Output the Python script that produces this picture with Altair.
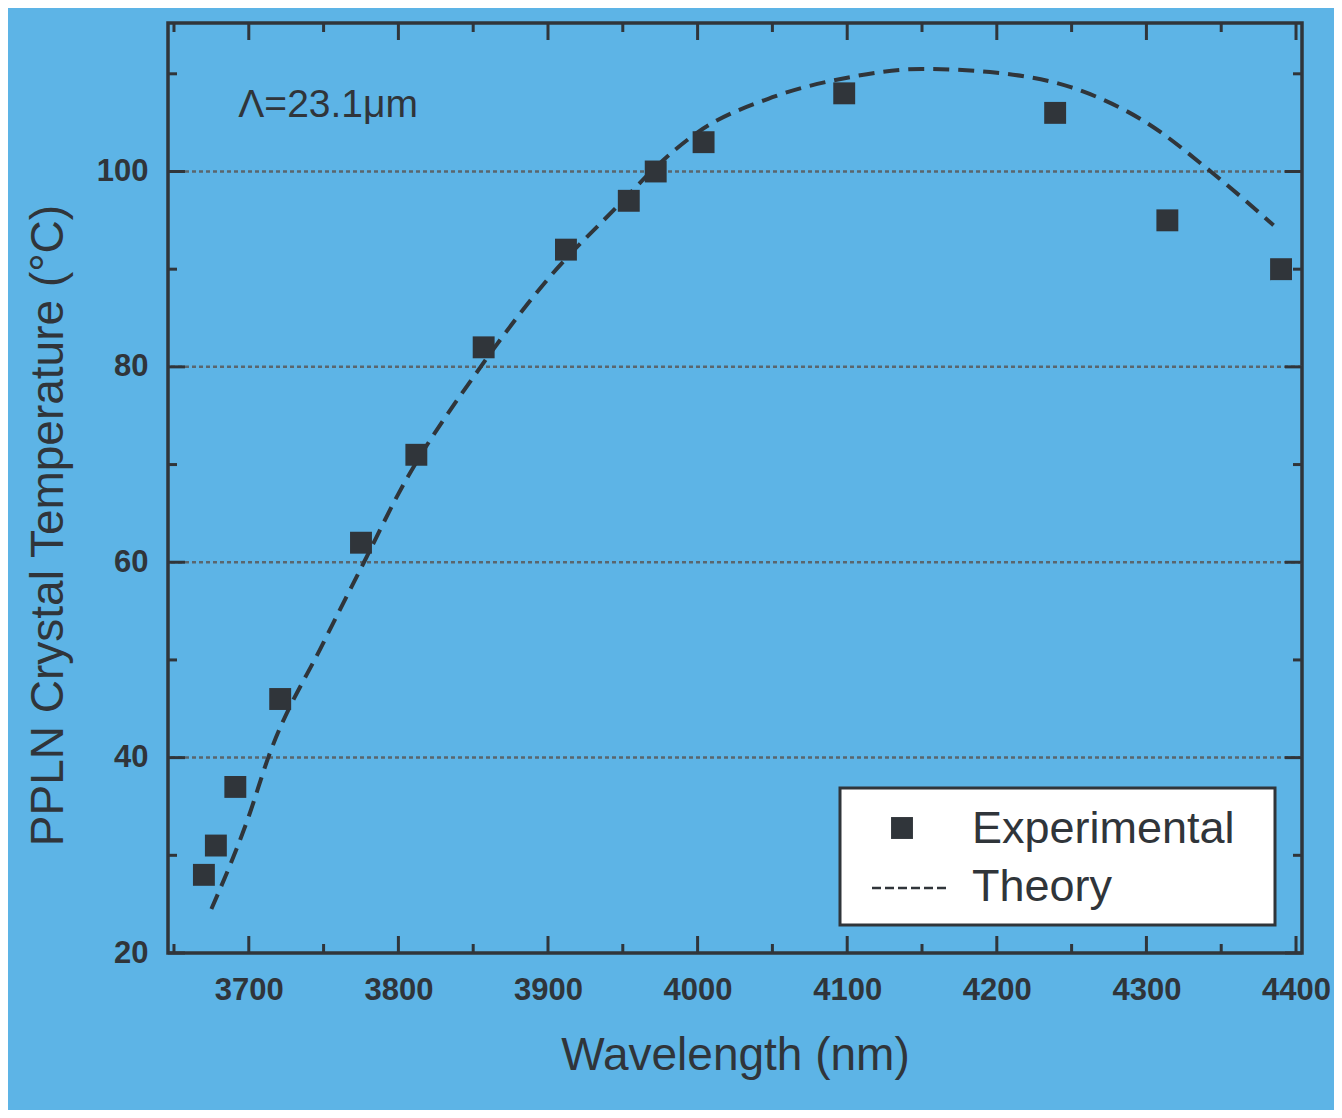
import altair as alt
import pandas as pd

# ---- data ----
exp_wavelength = [3670, 3678, 3691, 3721, 3775, 3812, 3857, 3912, 3954, 3972, 4004, 4098, 4239, 4314, 4390]
exp_temperature = [28, 31, 37, 46, 62, 71, 82, 92, 97, 100, 103, 108, 106, 95, 90]

theory_wavelength = [3675, 3700, 3713, 3750, 3777, 3800, 3855, 3900, 3950, 3969, 4000, 4050, 4100, 4150, 4200, 4250, 4300, 4343, 4385]
theory_temperature = [24.5, 34, 40, 51.8, 60, 67, 80, 89, 97, 100, 104, 107.6, 109.6, 110.5, 110.1, 108.6, 105, 100, 94.5]

x_major_ticks = [3700, 3800, 3900, 4000, 4100, 4200, 4300, 4400]
x_minor_ticks = [3650, 3750, 3850, 3950, 4050, 4150, 4250, 4350]
y_major_ticks = [20, 40, 60, 80, 100]
y_minor_ticks = [30, 50, 70, 90, 110]
grid_values = [40, 60, 80, 100]

annotation_text = ["Λ=23.1μm"]
annotation_x = [3693]
annotation_y = [106.8]

legend_labels = ["Experimental", "Theory"]

X_DOMAIN = [3646, 4404]
Y_DOMAIN = [20, 115.2]
W, H = 1134, 930
INK = "#30353a"
BG = "#5db4e6"
FONT = "Liberation Sans"

exp_df = pd.DataFrame({"wl": exp_wavelength, "T": exp_temperature})
th_df = pd.DataFrame({"wl": theory_wavelength, "T": theory_temperature})

xs = alt.Scale(domain=X_DOMAIN, nice=False, zero=False)
ys = alt.Scale(domain=Y_DOMAIN, nice=False, zero=False)

x_axis = alt.Axis(values=x_major_ticks, format="d", ticks=False, grid=False, domain=False,
                  labelFontSize=31, labelFont=FONT, labelFontWeight="bold", labelColor=INK,
                  labelPadding=22, title="Wavelength (nm)", titleFontSize=46, titleFont=FONT,
                  titleFontWeight="normal", titleColor=INK, titlePadding=28)
y_axis = alt.Axis(values=y_major_ticks, format="d", ticks=False, grid=False, domain=False,
                  labelFontSize=31, labelFont=FONT, labelFontWeight="bold", labelColor=INK,
                  labelPadding=20, title="PPLN Crystal Temperature (°C)", titleFontSize=46,
                  titleFont=FONT, titleFontWeight="normal", titleColor=INK, titlePadding=24,
                  titleY=502)

# grid lines (dotted)
grid = alt.Chart(pd.DataFrame({"g": grid_values})).mark_rule(
    color="#5a666e", strokeWidth=2.5, strokeDash=[4, 3]
).encode(y=alt.Y("g:Q", scale=ys, axis=y_axis))


def xticks(vals, length):
    d = pd.DataFrame({"v": vals})
    b = alt.Chart(d).mark_rule(color=INK, strokeWidth=3).encode(
        x=alt.X("v:Q", scale=xs, axis=x_axis), y=alt.value(H), y2=alt.value(H - length))
    t = alt.Chart(d).mark_rule(color=INK, strokeWidth=3).encode(
        x=alt.X("v:Q", scale=xs), y=alt.value(0), y2=alt.value(length))
    return [b, t]


def yticks(vals, length):
    d = pd.DataFrame({"v": vals})
    l = alt.Chart(d).mark_rule(color=INK, strokeWidth=3).encode(
        y=alt.Y("v:Q", scale=ys), x=alt.value(0), x2=alt.value(length))
    r = alt.Chart(d).mark_rule(color=INK, strokeWidth=3).encode(
        y=alt.Y("v:Q", scale=ys), x=alt.value(W), x2=alt.value(W - length))
    return [l, r]


tick_layers = (xticks(x_major_ticks, 17) + xticks(x_minor_ticks, 9)
               + yticks(y_major_ticks, 17) + yticks(y_minor_ticks, 9))

theory = alt.Chart(th_df).mark_line(
    color=INK, strokeWidth=4, strokeDash=[16, 9], interpolate="monotone"
).encode(x=alt.X("wl:Q", scale=xs), y=alt.Y("T:Q", scale=ys))

points = alt.Chart(exp_df).mark_point(
    shape="square", filled=True, size=480, color=INK, opacity=1
).encode(x=alt.X("wl:Q", scale=xs), y=alt.Y("T:Q", scale=ys))

annot = alt.Chart(pd.DataFrame({"t": annotation_text, "x": annotation_x, "y": annotation_y})).mark_text(
    align="left", baseline="middle", fontSize=39, font=FONT, color=INK
).encode(x=alt.X("x:Q", scale=xs), y=alt.Y("y:Q", scale=ys), text="t:N")

# legend box (drawn manually)
one = pd.DataFrame({"a": [0]})
leg_box = alt.Chart(one).mark_rect(
    fill="white", stroke=INK, strokeWidth=3
).encode(x=alt.value(672), x2=alt.value(1107), y=alt.value(765), y2=alt.value(902))
leg_sq = alt.Chart(one).mark_point(
    shape="square", filled=True, size=480, color=INK, opacity=1
).encode(x=alt.value(734), y=alt.value(805))
leg_line = alt.Chart(one).mark_rule(
    color=INK, strokeWidth=2.5, strokeDash=[9, 4]
).encode(x=alt.value(704), x2=alt.value(780), y=alt.value(865))
leg_txt1 = alt.Chart(pd.DataFrame({"t": [legend_labels[0]]})).mark_text(
    align="left", baseline="middle", fontSize=45, font=FONT, color=INK
).encode(x=alt.value(804), y=alt.value(806), text="t:N")
leg_txt2 = alt.Chart(pd.DataFrame({"t": [legend_labels[1]]})).mark_text(
    align="left", baseline="middle", fontSize=45, font=FONT, color=INK
).encode(x=alt.value(804), y=alt.value(864), text="t:N")

chart = alt.layer(
    grid, *tick_layers, theory, points, annot, leg_box, leg_sq, leg_line, leg_txt1, leg_txt2
).properties(
    width=W, height=H,
    autosize=alt.AutoSizeParams(type="none"),
    padding={"left": 160, "top": 15, "right": 32, "bottom": 157},
    background=BG,
).configure_view(
    stroke=INK, strokeWidth=3.5, fill=BG
)

chart.save("out.html", embed_options={"renderer": "svg", "actions": False})
